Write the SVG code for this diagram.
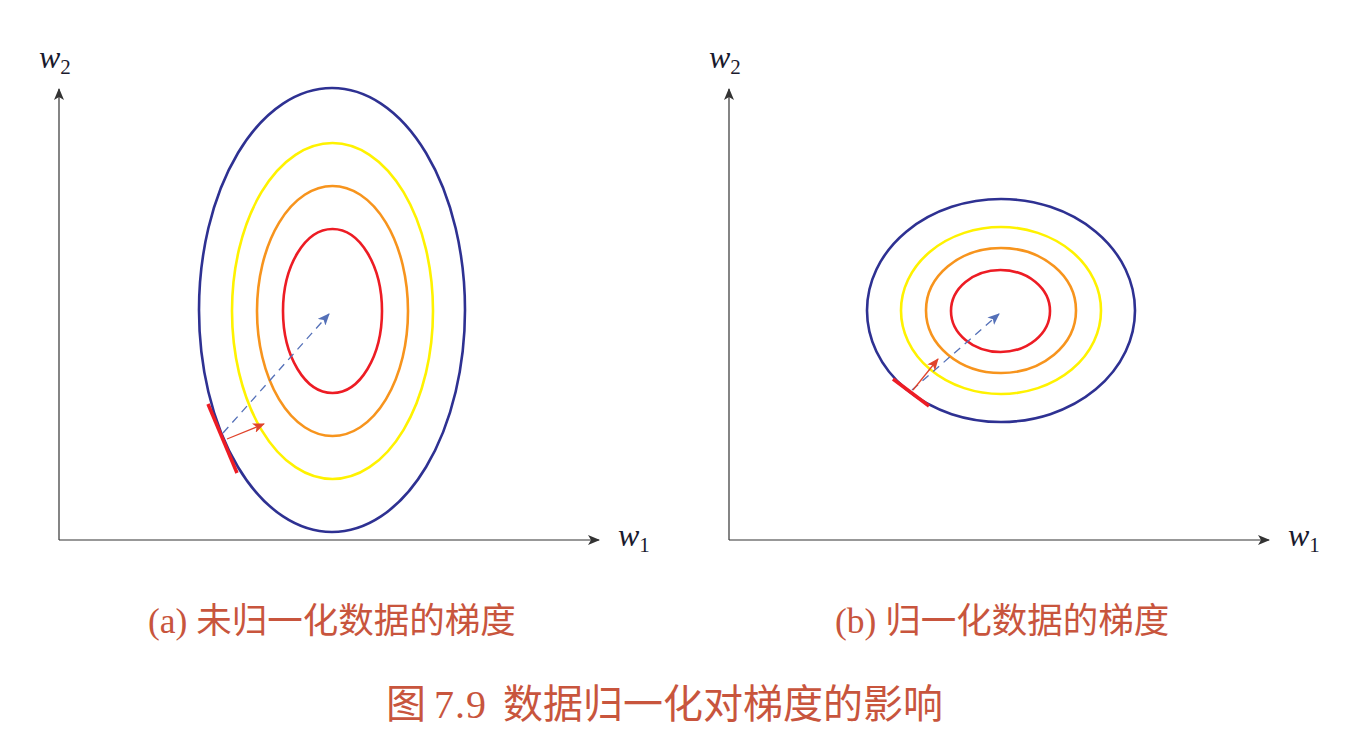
<svg xmlns="http://www.w3.org/2000/svg" width="1365" height="729" viewBox="0 0 1365 729">
<style>
.axis{stroke:#333;stroke-width:1.2;fill:none}
.e{fill:none;stroke-width:2.6}
.blue{stroke:#2e3192}
.yel{stroke:#fff200}
.ora{stroke:#f7941d}
.red{stroke:#ed1c24}
.dash{stroke:#5470b8;stroke-width:1.3;stroke-dasharray:8 6;fill:none}
.grad{stroke:#e0442c;stroke-width:1.3;fill:none}
.tan{stroke:#ed1c24;stroke-width:3.5;fill:none}
.lab{font-family:"Liberation Serif",serif;font-style:italic;font-size:32px;fill:#1a1a2e}
.sub{font-family:"Liberation Serif",serif;font-style:normal;font-size:21px;fill:#1a1a2e}
.cap{font-family:"Liberation Serif","Noto Sans CJK SC",serif;fill:#c8553d}
</style>
<defs>
<marker id="ax" viewBox="0 0 12 10" refX="11" refY="5" markerWidth="12" markerHeight="10" markerUnits="userSpaceOnUse" orient="auto">
<path d="M0,0 L12,5 L0,10 L3,5 Z" fill="#333"/>
</marker>
<marker id="bl" viewBox="0 0 12 10" refX="11" refY="5" markerWidth="12" markerHeight="10" markerUnits="userSpaceOnUse" orient="auto">
<path d="M0,0 L12,5 L0,10 L3,5 Z" fill="#5470b8"/>
</marker>
<marker id="rd" viewBox="0 0 12 10" refX="11" refY="5" markerWidth="12" markerHeight="10" markerUnits="userSpaceOnUse" orient="auto">
<path d="M0,0 L12,5 L0,10 L3,5 Z" fill="#e0442c"/>
</marker>
</defs>
<rect width="1365" height="729" fill="#fff"/>

<g id="panel-a">
<g id="axes-a">
<line class="axis" x1="59" y1="540" x2="59" y2="89" marker-end="url(#ax)"/>
<line class="axis" x1="59" y1="540" x2="599" y2="540" marker-end="url(#ax)"/>
<text class="lab" x="39" y="68">w<tspan class="sub" dy="6">2</tspan></text>
<text class="lab" x="618" y="546">w<tspan class="sub" dy="6">1</tspan></text>
</g>
<g id="contours-a">
<ellipse class="e blue" cx="332" cy="310" rx="133" ry="222"/>
<ellipse class="e yel" cx="332.5" cy="311" rx="100.5" ry="168"/>
<ellipse class="e ora" cx="332.5" cy="311" rx="75.5" ry="125"/>
<ellipse class="e red" cx="332.5" cy="311" rx="49.5" ry="82"/>
</g>
<g id="gradient-a">
<line class="dash" x1="223" y1="433" x2="329" y2="314" marker-end="url(#bl)"/>
<line class="grad" x1="227" y1="439" x2="264" y2="424" marker-end="url(#rd)"/>
<line class="tan" x1="208" y1="404" x2="237" y2="473"/>
</g>
</g>

<g id="panel-b">
<g id="axes-b">
<line class="axis" x1="729" y1="540" x2="729" y2="89" marker-end="url(#ax)"/>
<line class="axis" x1="729" y1="540" x2="1269" y2="540" marker-end="url(#ax)"/>
<text class="lab" x="709" y="68">w<tspan class="sub" dy="6">2</tspan></text>
<text class="lab" x="1288" y="546">w<tspan class="sub" dy="6">1</tspan></text>
</g>
<g id="contours-b">
<ellipse class="e blue" cx="1001" cy="310.5" rx="134" ry="111.5"/>
<ellipse class="e yel" cx="1001" cy="310.5" rx="100" ry="83.5"/>
<ellipse class="e ora" cx="1001" cy="310.5" rx="75" ry="62.5"/>
<ellipse class="e red" cx="1000.5" cy="311" rx="49.5" ry="41"/>
</g>
<g id="gradient-b">
<line class="dash" x1="912" y1="390" x2="999" y2="314" marker-end="url(#bl)"/>
<line class="grad" x1="913" y1="390" x2="938" y2="359" marker-end="url(#rd)"/>
<line class="tan" x1="893" y1="379" x2="929" y2="406"/>
</g>
</g>

<g id="captions">
<text class="cap" x="148" y="633" font-size="35.5">(a) 未归一化数据的梯度</text>
<text class="cap" x="835" y="633" font-size="35.5">(b) 归一化数据的梯度</text>
<text class="cap" x="386" y="718" font-size="40">图</text>
<text class="cap" x="434" y="718" font-size="40" letter-spacing="1">7.9</text>
<text class="cap" x="503" y="718" font-size="40">数据归一化对梯度的影响</text>
</g>
</svg>
